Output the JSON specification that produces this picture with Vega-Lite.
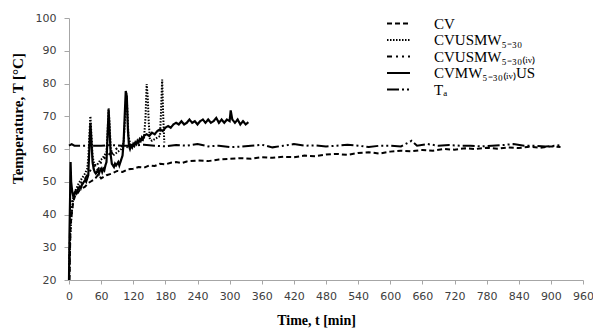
{
  "$schema": "https://vega.github.io/schema/vega-lite/v6.json",
  "autosize": {"type": "none"},
  "width": 514,
  "height": 262,
  "padding": {"left": 69, "top": 18, "right": 10, "bottom": 49},
  "background": "white",
  "config": {"view": {"stroke": null}},
  "datasets": {
    "cv": [[1,20],[2,30],[3,37],[5,40],[8,44],[12,46],[16,46.5],[20,47.5],[25,48],[30,48.5],[35,49.5],[40,50],[45,50.5],[50,51.2],[55,52.3],[60,51],[65,51.5],[70,52],[80,52.5],[90,53.3],[100,53],[110,53.8],[120,54],[130,54.5],[140,54.3],[150,55],[160,54.8],[170,55.5],[180,55.3],[190,55.8],[200,56],[210,55.7],[220,56.2],[240,56.5],[260,56.3],[280,56.8],[300,57],[320,57.2],[340,57],[360,57.5],[380,57.3],[400,57.6],[420,57.5],[440,58],[460,57.8],[480,58.3],[500,58.5],[520,58.2],[540,58.8],[560,59],[580,58.6],[600,59.2],[620,59.5],[640,59.3],[660,59.7],[680,59.5],[700,60],[720,59.8],[740,60.2],[760,60],[780,60.4],[800,60.1],[820,60.5],[840,60.3],[860,60.7],[880,60.4],[900,60.8],[918,60.6]],
    "ta": [[0,61],[5,61.5],[10,61],[20,61],[40,61],[60,61],[80,61.2],[100,61],[120,61],[140,61.3],[160,61],[180,60.8],[200,61.2],[220,61],[240,61.5],[260,60.8],[280,61],[300,60.6],[320,60.7],[340,61],[360,61.3],[380,60.5],[400,61],[420,61.5],[440,61],[460,61.1],[480,60.8],[500,61],[520,61.3],[540,61],[560,60.6],[580,61],[600,61],[620,60.8],[640,62.5],[650,61],[670,61.5],[690,61],[710,61.2],[730,61],[750,61],[770,60.8],[790,61],[810,61.2],[830,61.5],[850,61],[870,61],[890,60.8],[910,61],[918,61.2]],
    "solid": [[0,20],[1,35],[2,45],[3,56],[4,50],[6,47],[8,45.5],[10,46],[12,47],[14,46.5],[16,47.5],[18,48],[20,48.5],[22,48],[24,49],[26,49.5],[28,50],[30,50.5],[32,50],[34,51],[36,52],[38,60],[40,68],[42,62],[44,56],[46,54],[48,53],[50,52.5],[52,53],[54,53.5],[56,52.5],[58,53.5],[60,54],[62,53],[64,54],[66,53.5],[68,55],[70,56],[72,64],[74,72],[76,65],[78,58],[80,55.5],[82,55],[84,54.5],[86,55.5],[88,55],[90,55.5],[92,56],[94,55],[96,56],[98,57],[100,58],[102,62],[104,70],[106,77.7],[108,76],[110,66],[112,61],[114,60],[116,61],[118,60.5],[120,61.5],[122,61],[124,62],[126,61.5],[128,62.5],[130,62],[132,63],[134,62.5],[136,63.5],[138,63],[140,64],[145,64.5],[150,64],[155,65],[160,64.5],[165,65.5],[170,66],[175,65.5],[180,66.5],[185,67],[190,66.5],[195,67.5],[200,68],[205,67.5],[210,68.5],[215,67.5],[220,68],[225,69],[230,68],[235,68.5],[240,67.5],[245,68.5],[250,69],[255,68],[260,69],[265,68],[270,68.5],[275,69.5],[280,68],[285,69],[290,68],[295,69],[300,68.5],[302,71.8],[305,69],[310,68],[315,69],[320,67.5],[325,68.5],[330,67.5],[335,68.2]],
    "dotted": [[0,20],[2,32],[4,38],[6,42],[8,45],[10,46.5],[14,48],[18,49.5],[22,50.5],[26,51.5],[30,52.5],[34,54],[36,57],[38,64],[40,70],[42,64],[44,58],[46,56],[50,55],[54,55.5],[58,56.5],[62,57],[66,58],[70,59],[72,65],[74,72.5],[76,67],[78,60],[82,58],[86,58.5],[90,59],[94,59.5],[98,60],[102,62],[105,70],[107,77],[109,72],[111,64],[115,61],[120,61.5],[125,62],[130,62],[135,62.5],[140,63],[143,70],[145,79.8],[147,76],[149,68],[151,63],[155,62.5],[160,63],[165,63.5],[170,64],[172,72],[174,81.2],[176,70],[178,62]],
    "dashdot": [[0,20],[2,36],[4,42],[8,46],[12,47],[18,48.5],[24,50],[30,51],[36,52.5],[42,54],[48,55],[54,53.5],[60,56],[68,57.5],[76,58.5],[84,59.5],[92,60.5],[100,61],[110,60.5]]
  },
  "layer": [
    {"data": {"name": "cv"}, "transform": [{"calculate": "'CV'", "as": "series"}, {"calculate": "datum[0]", "as": "t"}, {"calculate": "datum[1]", "as": "T"}], "mark": {"type": "line", "color": "black", "strokeWidth": 2}, "encoding": {"x": {"field": "t", "type": "quantitative"}, "y": {"field": "T", "type": "quantitative"}, "strokeDash": {"field": "series", "type": "nominal"}}},
    {"data": {"name": "ta"}, "transform": [{"calculate": "'Tₐ'", "as": "series"}, {"calculate": "datum[0]", "as": "t"}, {"calculate": "datum[1]", "as": "T"}], "mark": {"type": "line", "color": "black", "strokeWidth": 2}, "encoding": {"x": {"field": "t", "type": "quantitative"}, "y": {"field": "T", "type": "quantitative"}, "strokeDash": {"field": "series", "type": "nominal"}}},
    {"data": {"name": "dashdot"}, "transform": [{"calculate": "'CVUSMW₅₋₃₀₍ᵢᵥ₎'", "as": "series"}, {"calculate": "datum[0]", "as": "t"}, {"calculate": "datum[1]", "as": "T"}], "mark": {"type": "line", "color": "black", "strokeWidth": 2}, "encoding": {"x": {"field": "t", "type": "quantitative"}, "y": {"field": "T", "type": "quantitative"}, "strokeDash": {"field": "series", "type": "nominal"}}},
    {"data": {"name": "dotted"}, "transform": [{"calculate": "'CVUSMW₅₋₃₀'", "as": "series"}, {"calculate": "datum[0]", "as": "t"}, {"calculate": "datum[1]", "as": "T"}], "mark": {"type": "line", "color": "black", "strokeWidth": 2}, "encoding": {"x": {"field": "t", "type": "quantitative"}, "y": {"field": "T", "type": "quantitative"}, "strokeDash": {"field": "series", "type": "nominal"}}},
    {"data": {"name": "solid"}, "transform": [{"calculate": "'CVMW₅₋₃₀₍ᵢᵥ₎US'", "as": "series"}, {"calculate": "datum[0]", "as": "t"}, {"calculate": "datum[1]", "as": "T"}], "mark": {"type": "line", "color": "black", "strokeWidth": 2.2}, "encoding": {"x": {"field": "t", "type": "quantitative"}, "y": {"field": "T", "type": "quantitative"}, "strokeDash": {"field": "series", "type": "nominal"}}}
  ],
  "resolve": {"scale": {"strokeDash": "shared"}},
  "encoding": {
    "x": {"field": "t", "type": "quantitative", "scale": {"domain": [0, 960], "nice": false, "zero": false},
      "axis": {"values": [0,60,120,180,240,300,360,420,480,540,600,660,720,780,840,900,960], "grid": false, "domainColor": "#a6a6a6", "tickColor": "#a6a6a6", "tickSize": 4, "labelFont": "DejaVu Sans", "labelFontSize": 11, "labelColor": "#404040", "labelPadding": 6, "labelFlush": false, "title": "Time, t [min]", "titleFont": "Liberation Serif", "titleFontSize": 14, "titleFontWeight": "bold", "titleColor": "black", "titleX": 247, "titleY": 44, "titleBaseline": "alphabetic", "titleAnchor": "start", "titleAlign": "center"}},
    "y": {"field": "T", "type": "quantitative", "scale": {"domain": [20, 100], "nice": false, "zero": false},
      "axis": {"values": [20,30,40,50,60,70,80,90,100], "grid": false, "domainColor": "#a6a6a6", "tickColor": "#a6a6a6", "tickSize": 5, "labelFont": "DejaVu Sans", "labelFontSize": 11, "labelColor": "#404040", "labelPadding": 8, "title": "Temperature,  T [°C]", "titleFont": "Liberation Serif", "titleFontSize": 15, "titleFontWeight": "bold", "titleColor": "black", "titleX": -52, "titleY": 100, "titleAngle": -90, "titleBaseline": "middle", "titleAlign": "center"}},
    "strokeDash": {"field": "series", "type": "nominal",
      "scale": {"domain": ["CV", "CVUSMW₅₋₃₀", "CVUSMW₅₋₃₀₍ᵢᵥ₎", "CVMW₅₋₃₀₍ᵢᵥ₎US", "Tₐ"], "range": [[5,3], [1.5,1.5], [5,4,2,4,2,4], [1,0], [12,3,2,3,2,3]]},
      "legend": {"orient": "none", "legendX": 322, "legendY": -2, "title": null, "padding": 0, "symbolType": "M-2,0H2", "symbolSize": 132, "symbolStrokeColor": "black", "symbolStrokeWidth": 2, "labelFont": "Liberation Serif", "labelFontSize": 15, "labelColor": "black", "labelOffset": 28, "rowPadding": 0.5, "labelLimit": 300}}
  }
}
